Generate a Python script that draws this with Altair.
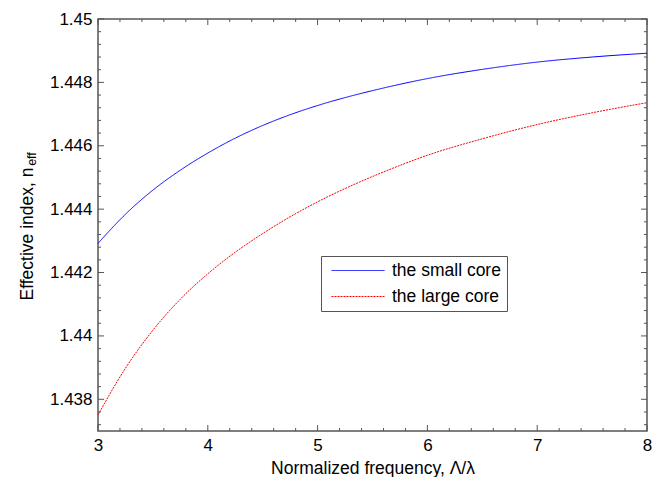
import altair as alt
import pandas as pd

# ---- data ----
freq = [3.0, 3.25, 3.5, 3.75, 4.0, 4.25, 4.5, 4.75, 5.0, 5.25, 5.5, 5.75,
        6.0, 6.5, 7.0, 7.5, 8.0]
small_core = [1.44292, 1.44384, 1.44460, 1.44523, 1.44577, 1.44624, 1.44664,
              1.44698, 1.44727, 1.44752, 1.44774, 1.44794, 1.44812, 1.44841,
              1.44864, 1.44880, 1.44892]
large_core = [1.43751, 1.43898, 1.44018, 1.44116, 1.44196, 1.44264, 1.44323,
              1.44376, 1.44423, 1.44465, 1.44503, 1.44538, 1.44570, 1.44622,
              1.44667, 1.44704, 1.44736]
series_names = ["the small core", "the large core"]
series_colors = ["#0000ff", "#ff0000"]

x_major = [3, 4, 5, 6, 7, 8]
x_minor = [round(3 + 0.2 * i, 1) for i in range(26) if i % 5 != 0]
y_major = [1.438, 1.44, 1.442, 1.444, 1.446, 1.448, 1.45]
y_minor = [round(1.4372 + 0.0004 * i, 4) for i in range(32)]
y_minor = [v for v in y_minor if all(abs(v - m) > 1e-6 for m in y_major)]

W, H = 549, 412
FONT = "Liberation Sans"
FRAME = "#555555"

df = pd.DataFrame({
    "x": freq * 2,
    "y": small_core + large_core,
    "series": [series_names[0]] * len(freq) + [series_names[1]] * len(freq),
})

xscale = alt.Scale(domain=[3, 8], nice=False, zero=False)
yscale = alt.Scale(domain=[1.437, 1.45], nice=False, zero=False)

legend_kw = dict(title=None, orient="none", legendX=223, legendY=237,
                 symbolType="stroke", symbolSize=2809, symbolStrokeWidth=1,
                 symbolOffset=4, labelFontSize=17.5, labelFont=FONT,
                 labelColor="black", labelOffset=7, padding=6, clipHeight=17,
                 rowPadding=8, fillColor="white", strokeColor=FRAME)

lines = alt.Chart(df).mark_line(strokeWidth=1, interpolate="monotone").encode(
    x=alt.X("x:Q", scale=xscale,
            axis=alt.Axis(values=x_major, format="d", grid=False, ticks=False, domain=False,
                          labelFlush=False, labelOverlap=False, labelPadding=6,
                          labelFontSize=17, labelFont=FONT, labelColor="black",
                          title="Normalized frequency, Λ/λ", titleFont=FONT,
                          titleFontSize=17.5, titleFontWeight="normal", titleColor="black",
                          titleBaseline="alphabetic", titleY=42)),
    y=alt.Y("y:Q", scale=yscale,
            axis=alt.Axis(values=y_major, format="~g", grid=False, ticks=False, domain=False,
                          labelOverlap=False, labelPadding=6,
                          labelFontSize=17, labelFont=FONT, labelColor="black",
                          title="Effective index, n", titleFont=FONT,
                          titleFontSize=17.5, titleFontWeight="normal", titleColor="black",
                          titleAngle=270, titleBaseline="alphabetic", titleAlign="center",
                          titleX=-66, titleY=214.5)),
    color=alt.Color("series:N",
                    scale=alt.Scale(domain=series_names, range=series_colors),
                    legend=alt.Legend(**legend_kw)),
    strokeDash=alt.StrokeDash("series:N",
                              scale=alt.Scale(domain=series_names, range=[[1, 0], [2, 1]]),
                              legend=alt.Legend(**legend_kw)),
)

tick_style = dict(color=FRAME, strokeWidth=1)

xmaj = pd.DataFrame({"x": x_major})
xmin = pd.DataFrame({"x": x_minor})
ymaj = pd.DataFrame({"y": y_major})
ymin = pd.DataFrame({"y": y_minor})

def xticks(data, length):
    bottom = alt.Chart(data).mark_rule(**tick_style).encode(
        x=alt.X("x:Q", scale=xscale), y=alt.value(H), y2=alt.value(H - length))
    top = alt.Chart(data).mark_rule(**tick_style).encode(
        x=alt.X("x:Q", scale=xscale), y=alt.value(0), y2=alt.value(length))
    return [bottom, top]

def yticks(data, length):
    left = alt.Chart(data).mark_rule(**tick_style).encode(
        y=alt.Y("y:Q", scale=yscale), x=alt.value(0), x2=alt.value(length))
    right = alt.Chart(data).mark_rule(**tick_style).encode(
        y=alt.Y("y:Q", scale=yscale), x=alt.value(W), x2=alt.value(W - length))
    return [left, right]

sub = alt.Chart(pd.DataFrame({"t": ["eff"]})).mark_text(
    angle=270, fontSize=12.5, font=FONT, color="black", align="center",
    baseline="alphabetic").encode(text="t:N", x=alt.value(-62), y=alt.value(140))

layers = [lines] + xticks(xmaj, 6) + xticks(xmin, 3) + yticks(ymaj, 6) + yticks(ymin, 3) + [sub]

chart = alt.layer(*layers).properties(
    width=W, height=H,
    autosize=alt.AutoSizeParams(type="none"),
    padding={"left": 98, "top": 19, "right": 10, "bottom": 46},
    background="white",
).configure_view(stroke=FRAME, strokeWidth=1.5)

chart.save("out.html", embed_options={"renderer": "svg", "actions": False})
